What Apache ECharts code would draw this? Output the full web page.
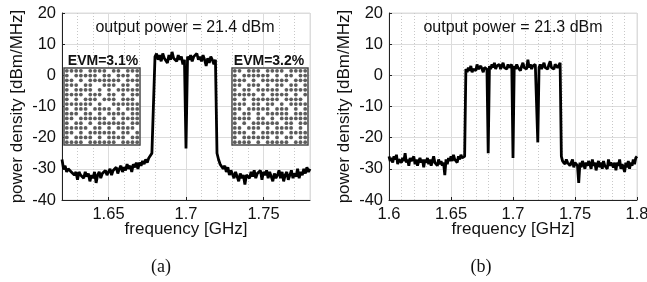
<!DOCTYPE html>
<html>
<head>
<meta charset="utf-8">
<script src="https://cdn.jsdelivr.net/npm/echarts@6/dist/echarts.min.js"></script>
<style>
  html, body { margin: 0; padding: 0; background: #fff; }
  #chart { width: 647px; height: 282px; }
</style>
</head>
<body>
<div id="chart"></div>
<script>
// frequency sampling (GHz)
const freqStartA = 1.62;
const freqStartB = 1.60;
const freqStep = 0.001;

// (a) power density [dBm/MHz], 1.620 ... 1.780
const psdA = [
  -27, -30, -29, -31, -30, -29.5, -31, -30.5, -32, -31,
  -33.5, -31, -32, -31.5, -33, -31, -32.5, -31.5, -34, -32,
  -33, -31, -34.5, -32, -31, -33, -31.5, -32, -30.5, -32,
  -31, -30, -32, -30.5, -31, -29.5, -31.5, -30, -29, -31,
  -29.5, -30.5, -28.5, -30, -29, -31, -28.5, -29.5, -28, -30,
  -28, -29, -27.5, -28.5, -27, -28, -26.5, -27, -25, -24.5,
  6, 7, 5, 6.5, 4.5, 7, 5.5, 6, 4, 6.5,
  5, 7.5, 5.5, 6, 4.5, 6.5, 5, 6, 3.5, 5,
  -23.5,
  6, 5, 6.5, 4.5, 6, 5.5, 7, 5, 6, 4.5,
  6.5, 5, 3, 5.5, 4, 6, 5, 3.5, 5,
  -25,
  -27, -28.5, -28, -30, -29, -31, -29.5, -32, -30.5, -31,
  -33, -31, -32.5, -34, -31.5, -33, -32, -35, -32, -31.5,
  -33, -31, -32.5, -30.5, -33, -31.5, -32, -30.5, -33.5, -31,
  -32, -30.5, -33, -31, -32.5, -34, -31.5, -33, -32, -30.5,
  -33, -31, -34, -32, -31, -33.5, -32, -30.5, -33, -31.5,
  -32.5, -30, -33, -31, -32, -30, -31.5, -29.5, -31, -30
];

// (b) power density [dBm/MHz], 1.600 ... 1.800
const psdB = [
  -26, -27.5, -26.5, -28, -26, -27, -25.5, -28.5, -27, -26.5,
  -28, -26.5, -27.5, -25, -28, -27, -29, -26.5, -27.5, -28,
  -26, -28.5, -27, -29, -27.5, -26.5, -28, -27, -29.5, -27,
  -28, -26.5, -28.5, -27, -29, -27.5, -26, -28, -27.5, -29,
  -27, -28.5, -27.5, -29, -28, -32, -27, -28.5, -26.5, -27.5,
  -26, -27.5, -25.5, -27, -26.5, -28, -26, -27, -25.5, -26.5,
  -27, -26,
  2, 1, 2.5, 1.5, 3, 1, 2, 2.5, 1.5, 3.5, 2, 1.5, 3, 2, 1, 2.5, 3, 2,
  -25,
  3, 2, 3.5, 2.5, 4, 2, 3, 2.5, 3.5, 2, 3, 4, 2.5, 3, 2, 3.5, 2.5, 3, 3.5,
  -26.5,
  3, 2, 3.5, 2.5, 3, 1.5, 3, 4, 2.5, 3, 2, 5, 2.5, 3.5, 2, 3, 2.5, 3.5, 3,
  -21.5,
  2.5, 3.5, 2, 3, 4, 2.5, 3, 2, 3.5, 4.5, 2.5, 3, 2, 3.5, 4, 2.5, 3, 4,
  -26,
  -27.5, -27, -28.5, -27, -28, -27.5, -29, -28, -27, -29.5,
  -28, -27.5, -29, -34.5, -28, -29.5, -27.5, -28.5, -30, -28,
  -29, -27.5, -28.5, -30, -27, -29, -28, -30.5, -28.5, -27.5,
  -29.5, -28, -30, -27.5, -29, -28.5, -30, -27, -29, -28,
  -27.5, -29.5, -28, -30.5, -28, -29, -27, -30, -28.5, -29.5,
  -31, -28, -29.5, -27.5, -30, -28, -29, -27, -28.5, -26.5,
  -26
];

// received constellations (inset), rows top to bottom, 'o' = symbol present
const constA = [
  'oooo.oooo.oo.ooo',
  'o.ooooo.oo.ooo.o',
  'oo.o.ooooooo.ooo',
  'ooo.oo..ooo.oo.o',
  'o.oooo.o.o.ooooo',
  'oooo.ooo.oo.o.oo',
  'o.o.ooo.ooo.ooo.',
  'oooooo.o..oooooo',
  'o.ooo.oooo.o.ooo',
  'ooo.oo.o.oooo.oo',
  'oo.oooooo.o.oooo',
  'o.oo.o.oooooo.oo',
  'ooooo.oo.o.oooo.',
  'oo.o.oooooo.oo.o',
  'o.oooo.o.oooo.oo',
  'oooo.oooooo.oooo'
];
const constB = [
  'oo.ooo.oooo.oooo',
  'o.oooooo.o.oo.oo',
  'ooo.o.oooooo.ooo',
  'oo.ooo.o.oo.oo.o',
  'o.oo.ooooo.ooooo',
  'ooooo.o.oooo.o.o',
  'o.o.oooooo.oooo.',
  'ooo.oo.oo.o.oooo',
  'oo.ooooo.ooo.o.o',
  'o.oo.o.ooooo.ooo',
  'oooo.oo.o.oooooo',
  'o.o.oooooo.oo.oo',
  'oo.ooo.o.oooo.o.',
  'ooo.o.ooooo.oooo',
  'o.oooooo.o.oo.oo',
  'oooo.o.ooooo.ooo'
];

const powerLabels = ['output power = 21.4 dBm', 'output power = 21.3 dBm'];
const evmLabels = ['EVM=3.1%', 'EVM=3.2%'];
const panelLabels = ['(a)', '(b)'];

const FONT = '"Liberation Sans", Arial, Helvetica, sans-serif';

const toPairs = (arr, start) => arr.map((v, i) => [+(start + i * freqStep).toFixed(3), v]);
const toDots = rows => {
  const pts = [];
  rows.forEach((row, r) => {
    row.split('').forEach((c, k) => { if (c === 'o') pts.push([k, rows.length - 1 - r]); });
  });
  return pts;
};

const chart = echarts.init(document.getElementById('chart'), null, { renderer: 'canvas' });

const tickLabel = { color: '#111', fontSize: 16.5, margin: 6, fontFamily: FONT };

const freqAxis = (gridIndex, min, max, extra) => Object.assign({
  type: 'value',
  gridIndex,
  min,
  max,
  name: 'frequency [GHz]',
  nameLocation: 'middle',
  nameGap: 21,
  nameMoveOverlap: false,
  nameTextStyle: { fontSize: 17, color: '#111', fontFamily: FONT, verticalAlign: 'top' },
  axisLine: { show: true, onZero: false, lineStyle: { color: '#222', width: 1 } },
  axisTick: { show: true, inside: true, length: 3, lineStyle: { color: '#222' } },
  axisLabel: tickLabel,
  splitLine: { show: true, lineStyle: { color: '#dcdcdc', width: 1 } },
  minorTick: { show: false, splitNumber: 5 },
  minorSplitLine: { show: true, lineStyle: { color: '#c8c8c8', width: 1, type: [1, 2] } }
}, extra);

const psdAxis = gridIndex => ({
  type: 'value',
  gridIndex,
  min: -40,
  max: 20,
  interval: 10,
  name: 'power density [dBm/MHz]',
  nameLocation: 'middle',
  nameGap: 36,
  nameMoveOverlap: false,
  nameTextStyle: { fontSize: 17, color: '#111', fontFamily: FONT },
  axisLine: { show: true, onZero: false, lineStyle: { color: '#222', width: 1 } },
  axisTick: { show: true, inside: true, length: 3, lineStyle: { color: '#222' } },
  axisLabel: tickLabel,
  splitLine: { show: true, lineStyle: { color: '#dcdcdc', width: 1 } }
});

const insetAxis = gridIndex => ({
  type: 'value', gridIndex, min: -0.6, max: 15.6, show: false
});

const text = (x, y, str, size, weight, family) => ({
  type: 'text', x, y, z: 100,
  style: {
    text: str, fill: '#111', fontSize: size, fontWeight: weight || 'normal',
    fontFamily: family || FONT, align: 'center', verticalAlign: 'middle'
  }
});

const option = {
  animation: false,
  grid: [
    { left: 62, top: 13, width: 248, height: 187, show: true, borderColor: '#dcdcdc', borderWidth: 1, outerBoundsMode: 'none' },
    { left: 389, top: 13, width: 248, height: 187, show: true, borderColor: '#dcdcdc', borderWidth: 1, outerBoundsMode: 'none' },
    { left: 64, top: 68, width: 76, height: 77, show: true, backgroundColor: '#fff', borderColor: '#4a4a4a', borderWidth: 1.5, z: 5, outerBoundsMode: 'none' },
    { left: 232, top: 68, width: 76, height: 77, show: true, backgroundColor: '#fff', borderColor: '#4a4a4a', borderWidth: 1.5, z: 5, outerBoundsMode: 'none' }
  ],
  xAxis: [
    freqAxis(0, 1.62, 1.78, { splitNumber: 3, axisLabel: Object.assign({}, tickLabel, { showMinLabel: false, showMaxLabel: false }) }),
    freqAxis(1, 1.6, 1.8, { interval: 0.05 }),
    insetAxis(2),
    insetAxis(3)
  ],
  yAxis: [psdAxis(0), psdAxis(1), insetAxis(2), insetAxis(3)],
  series: [
    { type: 'line', xAxisIndex: 0, yAxisIndex: 0, data: toPairs(psdA, freqStartA), showSymbol: false, silent: true,
      lineStyle: { color: '#000', width: 2.8 }, z: 3 },
    { type: 'line', xAxisIndex: 1, yAxisIndex: 1, data: toPairs(psdB, freqStartB), showSymbol: false, silent: true,
      lineStyle: { color: '#000', width: 2.8 }, z: 3 },
    { type: 'scatter', xAxisIndex: 2, yAxisIndex: 2, data: toDots(constA), symbolSize: 3.8, silent: true,
      itemStyle: { color: '#333' }, z: 10 },
    { type: 'scatter', xAxisIndex: 3, yAxisIndex: 3, data: toDots(constB), symbolSize: 3.8, silent: true,
      itemStyle: { color: '#333' }, z: 10 }
  ],
  graphic: [
    text(185, 27.5, powerLabels[0], 16),
    text(513, 27.5, powerLabels[1], 16),
    text(103, 61, evmLabels[0], 14, 'bold'),
    text(269, 61, evmLabels[1], 14, 'bold'),
    text(161, 267, panelLabels[0], 18, 'normal', '"Liberation Serif", "Times New Roman", serif'),
    text(481, 267, panelLabels[1], 18, 'normal', '"Liberation Serif", "Times New Roman", serif')
  ]
};

chart.setOption(option);
</script>
</body>
</html>
